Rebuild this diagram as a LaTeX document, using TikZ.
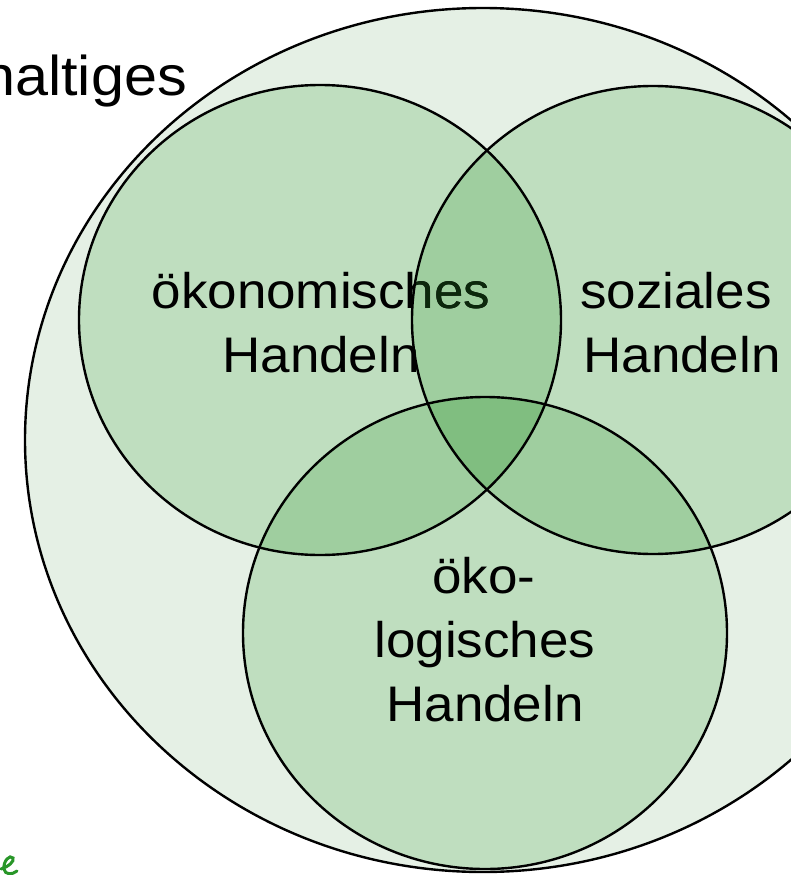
\documentclass[tikz,border=0pt]{standalone}
\usepackage{fontspec}
\setmainfont{Liberation Sans}
\definecolor{outerfill}{RGB}{229,240,229}
\definecolor{onefill}{RGB}{191,222,191}
\definecolor{twofill}{RGB}{159,206,159}
\definecolor{threefill}{RGB}{128,190,128}
\definecolor{darktext}{RGB}{12,40,12}
\definecolor{logogreen}{RGB}{40,150,40}
\begin{document}
\begin{tikzpicture}[x=1pt,y=-1pt,
  lbl/.style={font=\fontsize{50}{60}\selectfont, anchor=base, inner sep=0pt, xscale=1.06},
  ring/.style={draw=black, line width=2.4pt}]
\useasboundingbox (0,0) rectangle (790,875);
\def\outerC{(483,440) ellipse [x radius=458pt, y radius=432pt]}
\def\econC{(320,320) ellipse [x radius=241pt, y radius=235pt]}
\def\socC{(653,320) ellipse [x radius=241pt, y radius=234pt]}
\def\ecoC{(485,633) ellipse [x radius=242pt, y radius=236pt]}
% outer circle
\fill[outerfill] \outerC;
% single regions
\fill[onefill] \econC;
\fill[onefill] \socC;
\fill[onefill] \ecoC;
% pairwise overlaps
\begin{scope}\clip \econC; \fill[twofill] \socC; \fill[twofill] \ecoC; \end{scope}
\begin{scope}\clip \socC; \fill[twofill] \ecoC; \end{scope}
% triple overlap
\begin{scope}\clip \econC; \clip \socC; \fill[threefill] \ecoC; \end{scope}
% texts
\node[lbl, font=\fontsize{56}{60}\selectfont, anchor=base east] (title) at (187,95) {haltiges};
\node[lbl] (econ1) at (321,308) {ökonomisches};
\node[lbl] (econ2) at (321,372) {Handeln};
\begin{scope}\clip \socC;
\node[lbl, text=darktext] (econ1b) at (321,308) {ökonomisches};
\node[lbl, text=darktext] (econ2b) at (321,372) {Handeln};
\end{scope}
\node[lbl] (soc1) at (676,308) {soziales};
\node[lbl] (soc2) at (682,372) {Handeln};
\node[lbl] (eco1) at (484,593) {öko-};
\node[lbl] (eco2) at (485,657) {logisches};
\node[lbl] (eco3) at (485,721) {Handeln};
% outlines
\draw[ring] \outerC;
\draw[ring] \econC;
\draw[ring] \socC;
\draw[ring] \ecoC;
% partial logo mark at bottom left
\draw[logogreen, line width=3pt, line cap=round]
  (1,869) .. controls (8,867) and (15,861) .. (13,858)
  .. controls (10,854) and (3,861) .. (4,869)
  .. controls (5,875) and (12,875) .. (17,871);
\end{tikzpicture}
\end{document}
